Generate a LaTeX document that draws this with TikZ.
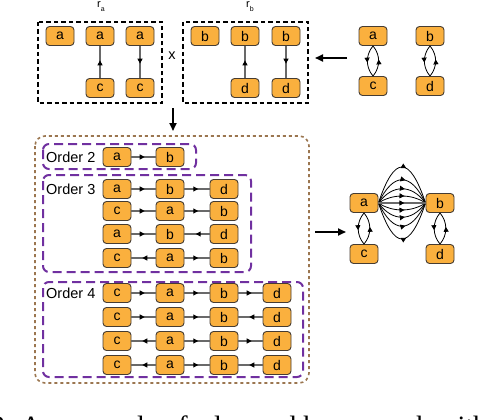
\documentclass[tikz,border=0pt]{standalone}
\usepackage{fontspec}
\setmainfont{Liberation Sans}
\newfontfamily\capfont{Liberation Serif}
\usetikzlibrary{arrows.meta,decorations.markings}
\definecolor{nodeor}{RGB}{250,176,62}
\definecolor{nodebd}{RGB}{70,60,50}
\definecolor{edgegr}{RGB}{105,105,105}
\definecolor{purp}{RGB}{112,48,160}
\definecolor{brn}{RGB}{155,118,80}
\begin{document}
\begin{tikzpicture}[x=1pt,y=-1pt,
  nd/.style={draw=nodebd,fill=nodeor,rounded corners=3.5pt,minimum width=28pt,minimum height=19pt,inner sep=0pt,line width=0.9pt,font=\fontsize{14}{14}\selectfont},
  fw/.style={draw=edgegr,line width=1.1pt,postaction={decorate},decoration={markings,mark=at position 0.55 with {\arrow[black]{Triangle[length=5pt,width=5pt]}}}},
  cv/.style={draw=black,line width=0.8pt,postaction={decorate},decoration={markings,mark=at position 0.55 with {\arrow[black]{Triangle[length=5pt,width=5pt]}}}},
  bigarr/.style={draw=black,line width=1.8pt,-{Triangle[length=8pt,width=7pt]}},
  blkbox/.style={draw=black,line width=2pt,dash pattern=on 4.5pt off 3pt},
  purpbox/.style={draw=purp,line width=2pt,dash pattern=on 9pt off 5pt,rounded corners=6pt},
  brnbox/.style={draw=brn,line width=1.6pt,dash pattern=on 3pt off 3pt,rounded corners=10pt},
  lbl/.style={font=\fontsize{14.5}{14.5}\selectfont,inner sep=0pt}
]
\useasboundingbox (0,0) rectangle (490,420);

% ---------- top row ----------
\draw[blkbox] (38,22) rectangle (162,103);
\draw[blkbox] (183,22) rectangle (308,103);
\node[inner sep=0pt,font=\fontsize{11}{11}\selectfont] (ralbl) at (101,7) {r\raisebox{-4pt}{\fontsize{7}{7}\selectfont a}};
\node[inner sep=0pt,font=\fontsize{11}{11}\selectfont] (rblbl) at (250,7) {r\raisebox{-4pt}{\fontsize{7}{7}\selectfont b}};
\node[lbl] (times) at (172,56) {x};

\node[nd] (a1) at (60,36) {a};
\node[nd] (a2) at (100,36) {a};
\node[nd] (a3) at (140,36) {a};
\node[nd] (c2) at (100,88) {c};
\node[nd] (c3) at (140,88) {c};
\draw[fw] (c2) -- (a2);
\draw[fw] (a3) -- (c3);

\node[nd] (b1) at (205,36) {b};
\node[nd] (b2) at (245,36) {b};
\node[nd] (b3) at (286,36) {b};
\node[nd] (d2) at (245,88) {d};
\node[nd] (d3) at (286,88) {d};
\draw[fw] (d2) -- (b2);
\draw[fw] (b3) -- (d3);

\node[nd] (ta) at (373,36) {a};
\node[nd] (tc) at (373,86) {c};
\node[nd] (tb) at (430,36) {b};
\node[nd] (td) at (430,86) {d};
\draw[cv] (ta.south) to[bend right=40] (tc.north);
\draw[cv] (tc.north) to[bend right=40] (ta.south);
\draw[cv] (tb.south) to[bend right=40] (td.north);
\draw[cv] (td.north) to[bend right=40] (tb.south);

\coordinate (la1) at (347,58);
\coordinate (la2) at (315,58);
\draw[bigarr] (la1) -- (la2);
\coordinate (da1) at (173,108);
\coordinate (da2) at (173,131);
\draw[bigarr] (da1) -- (da2);

% ---------- orders ----------
\draw[brnbox] (35,136) rectangle (309,383);
\draw[purpbox] (43,144) rectangle (196,169);
\draw[purpbox] (43,175) rectangle (251,272);
\draw[purpbox] (43,282) rectangle (303,377);

\node[lbl,anchor=west] (o2) at (46,157) {Order 2};
\node[lbl,anchor=west] (o3) at (46,189) {Order 3};
\node[lbl,anchor=west] (o4) at (46,293) {Order 4};

% order 2
\node[nd] (p1) at (117,157) {a};
\node[nd] (p2) at (170,157) {b};
\draw[fw] (p1) -- (p2);

% order 3
\node[nd] (q11) at (117,189) {a};
\node[nd] (q12) at (170,189) {b};
\node[nd] (q13) at (224,189) {d};
\draw[fw] (q11) -- (q12); \draw[fw] (q12) -- (q13);
\node[nd] (q21) at (117,211) {c};
\node[nd] (q22) at (170,211) {a};
\node[nd] (q23) at (224,211) {b};
\draw[fw] (q21) -- (q22); \draw[fw] (q22) -- (q23);
\node[nd] (q31) at (117,234) {a};
\node[nd] (q32) at (170,234) {b};
\node[nd] (q33) at (224,234) {d};
\draw[fw] (q31) -- (q32); \draw[fw] (q33) -- (q32);
\node[nd] (q41) at (117,258) {c};
\node[nd] (q42) at (170,258) {a};
\node[nd] (q43) at (224,258) {b};
\draw[fw] (q42) -- (q41); \draw[fw] (q42) -- (q43);

% order 4
\node[nd] (s11) at (117,293) {c};
\node[nd] (s12) at (170,293) {a};
\node[nd] (s13) at (224,293) {b};
\node[nd] (s14) at (277,293) {d};
\draw[fw] (s11) -- (s12); \draw[fw] (s12) -- (s13); \draw[fw] (s13) -- (s14);
\node[nd] (s21) at (117,317) {c};
\node[nd] (s22) at (170,317) {a};
\node[nd] (s23) at (224,317) {b};
\node[nd] (s24) at (277,317) {d};
\draw[fw] (s21) -- (s22); \draw[fw] (s22) -- (s23); \draw[fw] (s24) -- (s23);
\node[nd] (s31) at (117,341) {c};
\node[nd] (s32) at (170,341) {a};
\node[nd] (s33) at (224,341) {b};
\node[nd] (s34) at (277,341) {d};
\draw[fw] (s32) -- (s31); \draw[fw] (s32) -- (s33); \draw[fw] (s33) -- (s34);
\node[nd] (s41) at (117,365) {c};
\node[nd] (s42) at (170,365) {a};
\node[nd] (s43) at (224,365) {b};
\node[nd] (s44) at (277,365) {d};
\draw[fw] (s42) -- (s41); \draw[fw] (s42) -- (s43); \draw[fw] (s44) -- (s43);

% ---------- result ----------
\coordinate (ra1) at (315,232);
\coordinate (ra2) at (346,232);
\draw[bigarr] (ra1) -- (ra2);

\node[nd] (fa) at (364,203) {a};
\node[nd] (fb) at (440,203) {b};
\node[nd] (fc) at (364,254) {c};
\node[nd] (fd) at (440,254) {d};
\foreach \h/\dx in {-48/16,-31/15,-19/14,-9.3/14,9.3/14,19/14,31/15,48/16}
  \draw[cv] (fa.east) .. controls +(\dx,\h) and +(-\dx,\h) .. (fb.west);
\draw[fw] (fa.east) -- (fb.west);
\draw[cv] (fa.south) to[bend right=40] (fc.north);
\draw[cv] (fc.north) to[bend right=40] (fa.south);
\draw[cv] (fb.south) to[bend right=40] (fd.north);
\draw[cv] (fd.north) to[bend right=40] (fb.south);

% ---------- cut caption ----------
\node[anchor=base west,inner sep=0pt,font=\capfont\fontsize{28}{28}\selectfont] (cap) at (-9,435) {2.\hspace{9pt}An example of a learned hypergraph with};
\end{tikzpicture}
\end{document}
